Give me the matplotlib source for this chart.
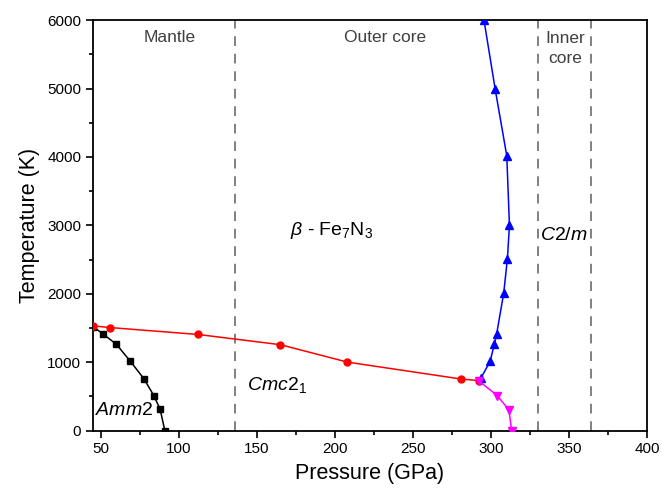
import matplotlib
matplotlib.use("Agg")
import matplotlib.pyplot as plt
from matplotlib.ticker import MultipleLocator

plt.rcParams['font.family'] = ['Liberation Sans', 'DejaVu Sans']
plt.rcParams['mathtext.fontset'] = 'custom'
plt.rcParams['mathtext.rm'] = 'Liberation Sans'
plt.rcParams['mathtext.it'] = 'Liberation Sans:italic'

# Amm2 / Cmc2_1 boundary (black squares)
p_black = [45, 51.5, 60, 69, 77.5, 84, 88, 91]
t_black = [1520, 1410, 1260, 1010, 760, 510, 310, 0]

# beta-Fe7N3 lower boundary (red circles)
p_red = [45, 56, 112, 165, 208, 281, 292]
t_red = [1530, 1505, 1405, 1255, 1000, 752, 730]

# beta / C2/m boundary (blue triangles)
p_blue = [293.5, 299.4, 302.1, 303.6, 308.1, 310.5, 311.8, 310.1, 302.6, 295.5]
t_blue = [765, 1010, 1260, 1410, 2005, 2510, 3000, 4015, 5000, 6000]

# Cmc2_1 / C2/m boundary (magenta triangles)
p_pink = [292.5, 304, 311.5, 313.2]
t_pink = [720, 510, 300, 0]

# Earth region boundaries (GPa)
boundaries = [136, 330, 364]

fig = plt.figure(figsize=(6.62, 4.92), dpi=100)
ax = fig.add_axes([0.1405, 0.125, 0.837, 0.834])

for b in boundaries:
    ax.axvline(b, color='#808080', lw=1.4, ls=(0, (5, 4)), zorder=1)

ax.plot(p_black, t_black, 'k-', marker='s', ms=4.5, lw=1.1, zorder=3)
ax.plot(p_red, t_red, '-', color='red', marker='o', ms=5, lw=1.1, zorder=3)
ax.plot(p_blue, t_blue, '-', color='blue', marker='^', ms=5.5, lw=1.1, zorder=4)
ax.plot(p_pink, t_pink, '-', color='magenta', marker='v', ms=5.5, lw=1.1, zorder=5)

ax.set_xlim(45, 400)
ax.set_ylim(0, 6000)
ax.xaxis.set_major_locator(MultipleLocator(50))
ax.xaxis.set_minor_locator(MultipleLocator(25))
ax.yaxis.set_major_locator(MultipleLocator(1000))
ax.yaxis.set_minor_locator(MultipleLocator(500))
ax.tick_params(which='major', direction='out', length=5, width=1.2, labelsize=11)
ax.tick_params(which='minor', direction='out', length=3, width=1.2)
for s in ax.spines.values():
    s.set_linewidth(1.3)

ax.set_xlabel('Pressure (GPa)', fontsize=15.5, labelpad=5)
ax.set_ylabel('Temperature (K)', fontsize=15.5, labelpad=5)

gray = '#404040'
ax.text(94, 5740, 'Mantle', color=gray, fontsize=12.5, ha='center', va='center')
ax.text(232, 5740, 'Outer core', color=gray, fontsize=12.5, ha='center', va='center')
ax.text(347.5, 5585, 'Inner\ncore', color=gray, fontsize=12.5, ha='center', va='center',
        linespacing=1.4)

ax.text(198, 2930, r'$\beta$ - Fe$_7$N$_3$', fontsize=14, ha='center', va='center')
ax.text(346.5, 2850, r'$\mathit{C2/m}$', fontsize=14, ha='center', va='center')
ax.text(143.5, 665, r'$\mathit{Cmc2}_{\mathrm{1}}$', fontsize=14, ha='left', va='center')
ax.text(65, 290, r'$\mathit{Amm2}$', fontsize=14, ha='center', va='center')

fig.savefig('out.png', dpi=100)
